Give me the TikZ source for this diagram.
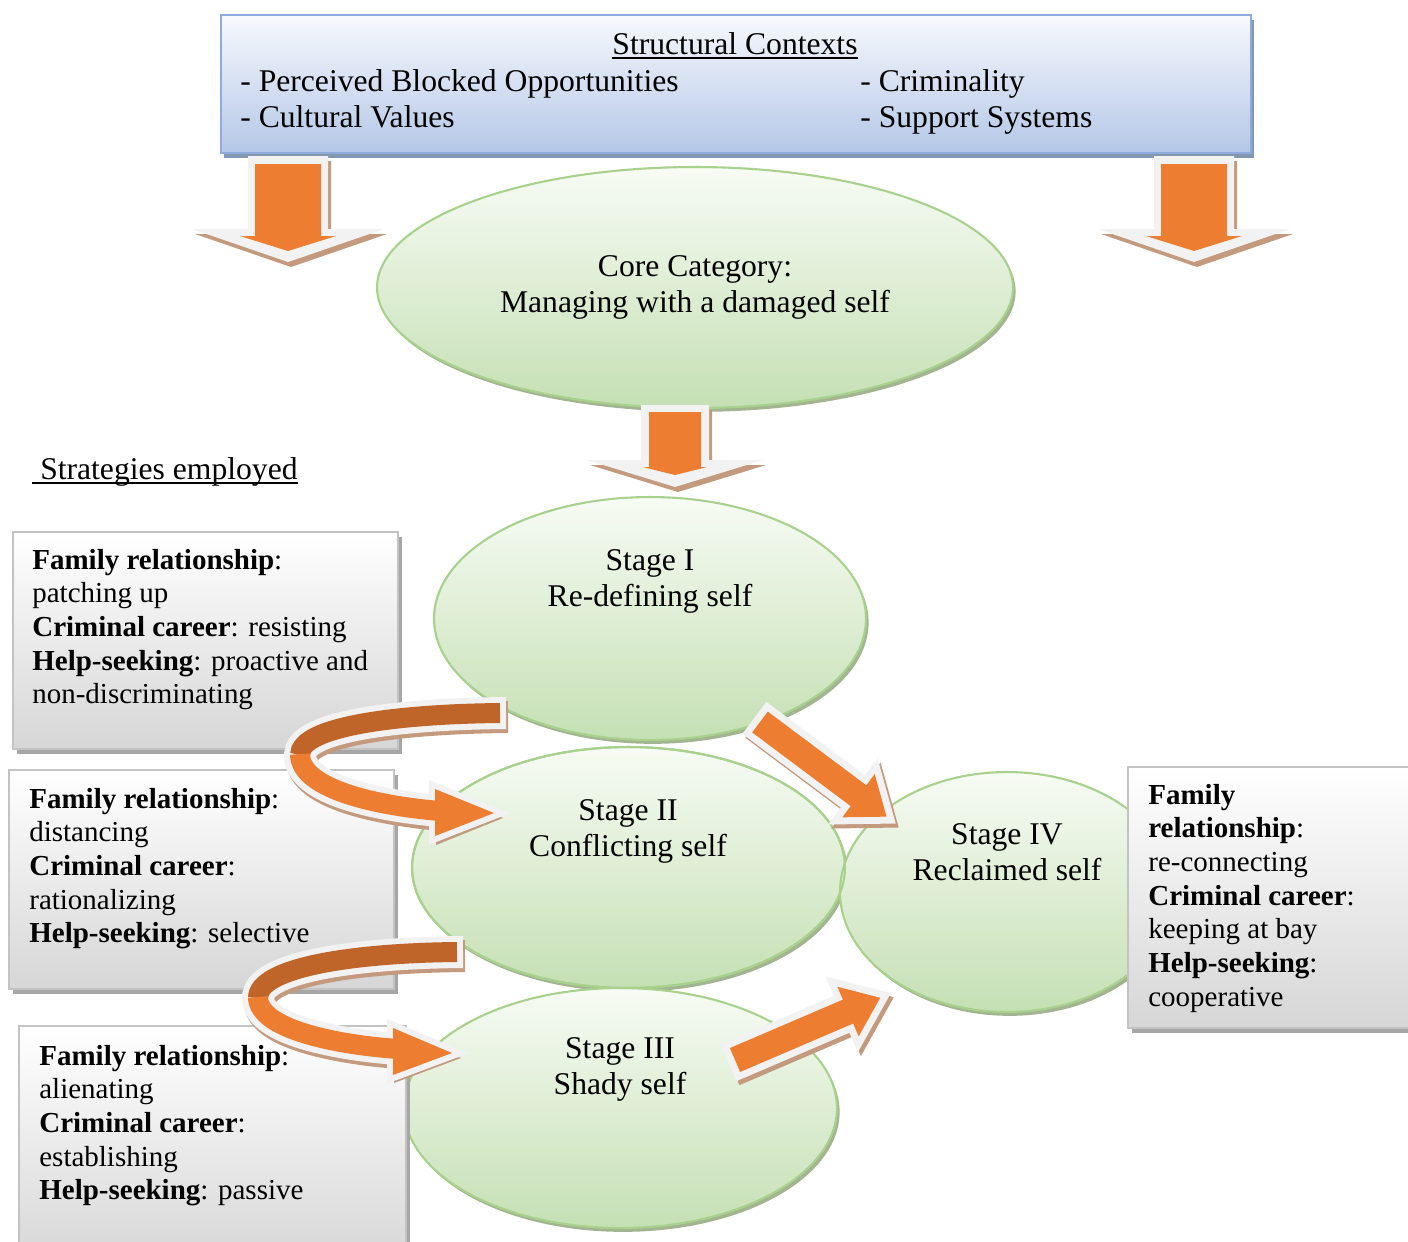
\documentclass[tikz,border=0pt]{standalone}
\usepackage{fontspec}
\setmainfont{Liberation Serif}
\usetikzlibrary{shapes.geometric,shadows}

\definecolor{arrorange}{HTML}{ED7D31}
\definecolor{arrdark}{HTML}{C0652A}
\definecolor{arrrim}{HTML}{F2F2F2}
\definecolor{arrshadow}{HTML}{C49A7E}
\definecolor{ellA}{HTML}{F7FBF4}
\definecolor{ellB}{HTML}{C5E0B4}
\definecolor{elldraw}{HTML}{A9D18E}
\definecolor{ellshadow}{HTML}{A2B590}
\definecolor{boxbottom}{HTML}{D6D6D6}
\definecolor{boxdraw}{HTML}{C3C3C3}
\definecolor{boxshadow}{HTML}{A6A6A6}
\definecolor{topA}{HTML}{F7F9FD}
\definecolor{topB}{HTML}{B4C7E7}
\definecolor{topdraw}{HTML}{8FAADC}
\definecolor{topshadow}{HTML}{8497B0}

\newcommand{\myul}[1]{\leavevmode\setbox0\hbox{#1}\rlap{\rule[-2.6pt]{\wd0}{0.9pt}}\box0}

% diagonal block arrow: tail x, tail y, rotation, length
\newcommand{\blockarr}[4]{%
  \begin{scope}[shift={(#1+3,#2+4)}, rotate=#3]
    \filldraw[fill=arrshadow, draw=arrshadow, line width=0.28cm]
      (0,-13) -- (#4-35,-13) -- (#4-35,-27) -- (#4,0) -- (#4-35,27) -- (#4-35,13) -- (0,13) -- cycle;
  \end{scope}
  \begin{scope}[shift={(#1,#2)}, rotate=#3]
    \filldraw[fill=arrrim, draw=arrrim, line width=0.28cm]
      (0,-13) -- (#4-35,-13) -- (#4-35,-27) -- (#4,0) -- (#4-35,27) -- (#4-35,13) -- (0,13) -- cycle;
    \fill[arrorange]
      (0,-13) -- (#4-35,-13) -- (#4-35,-27) -- (#4,0) -- (#4-35,27) -- (#4-35,13) -- (0,13) -- cycle;
  \end{scope}}

% big down arrow: centre x, top y
\newcommand{\bigdown}[2]{%
  \begin{scope}[shift={(#1,#2)}]
    \fill[arrshadow, shift={(3,5)}] (-40,0) -- (40,0) -- (40,73) -- (96,73) -- (0,106) -- (-96,73) -- (-40,73) -- cycle;
    \fill[arrrim] (-40,0) -- (40,0) -- (40,73) -- (96,73) -- (0,106) -- (-96,73) -- (-40,73) -- cycle;
    \fill[arrorange] (-33,8) -- (33,8) -- (33,80) -- (48,80) -- (0,95) -- (-48,80) -- (-33,80) -- cycle;
  \end{scope}}

\tikzset{
  bigtxt/.style={font=\fontsize{18}{20.6}\selectfont, inner sep=0},
  toptxt/.style={font=\fontsize{18}{21}\selectfont, inner sep=0},
  smalltxt/.style={font=\fontsize{16.5}{19.2}\selectfont, inner sep=0, anchor=base west},
  ell/.style={ellipse, draw=elldraw, line width=1.2pt, top color=ellA, bottom color=ellB,
    inner sep=0, outer sep=0,
    drop shadow={shadow xshift=1.5pt, shadow yshift=-2.2pt, fill=ellshadow, opacity=1}},
  gbox/.style={rectangle, anchor=north west, draw=boxdraw, line width=1.2pt,
    top color=white, bottom color=boxbottom, inner sep=0,
    drop shadow={shadow xshift=2.3pt, shadow yshift=-2.8pt, fill=boxshadow, opacity=1}},
  topbox/.style={rectangle, anchor=north west, draw=topdraw, line width=1.2pt,
    top color=topA, bottom color=topB, inner sep=0,
    drop shadow={shadow xshift=1.5pt, shadow yshift=-2.8pt, fill=topshadow, opacity=1}},
}

\begin{document}
\begin{tikzpicture}[x=0.02cm, y=-0.02cm]
\useasboundingbox (0,0) rectangle (1408,1241);
\fill[white] (0,0) rectangle (1408,1241);
\clip (0,0) rectangle (1408,1241);

% ---------- top box ----------
\node[topbox, minimum width=20.6cm, minimum height=2.76cm] (top) at (220,14) {};
\node[toptxt, anchor=base] (toptitle) at (735,54) {\myul{Structural Contexts}};
\node[toptxt, anchor=base west] (topleft) at (240,91)
  {\begin{tabular}[t]{@{}l@{}}- Perceived Blocked Opportunities\\- Cultural Values\end{tabular}};
\node[toptxt, anchor=base west] (topright) at (860,91)
  {\begin{tabular}[t]{@{}l@{}}- Criminality\\- Support Systems\end{tabular}};

% ---------- down arrows from top box ----------
\bigdown{288}{156}
\bigdown{1194}{156}

% ---------- core ellipse ----------
\node[ell, minimum width=12.72cm, minimum height=4.82cm] (core) at (695,287.5) {};
\node[bigtxt, anchor=base] (coretxt) at (695,276)
  {\begin{tabular}[t]{@{}c@{}}Core Category:\\Managing with a damaged self\end{tabular}};

% ---------- middle down arrow ----------
\begin{scope}[shift={(675,405)}]
  \fill[arrshadow, shift={(3,5)}] (-34,0) -- (34,0) -- (34,55) -- (88,55) -- (0,82) -- (-88,55) -- (-34,55) -- cycle;
  \fill[arrrim] (-34,0) -- (34,0) -- (34,55) -- (88,55) -- (0,82) -- (-88,55) -- (-34,55) -- cycle;
  \fill[arrorange] (-26,7) -- (26,7) -- (26,62) -- (32,62) -- (0,70) -- (-32,62) -- (-26,62) -- cycle;
\end{scope}

% ---------- strategies label ----------
\node[bigtxt, anchor=base west] (strat) at (32,479) {\myul{\ Strategies employed}};

% ---------- stage ellipses ----------
\node[ell, minimum width=8.64cm, minimum height=4.86cm] (s1) at (650,618.5) {};
\node[ell, minimum width=8.66cm, minimum height=4.82cm] (s2) at (628.5,867.5) {};
\node[ell, minimum width=8.66cm, minimum height=4.8cm] (s3) at (620.5,1108) {};
\node[ell, minimum width=6.68cm, minimum height=4.8cm] (s4) at (1007,892) {};
\draw[elldraw, line width=1.2pt] (s2.center) ellipse [x radius=4.33cm, y radius=2.41cm];

\node[bigtxt, anchor=base] (s1txt) at (650,570)
  {\begin{tabular}[t]{@{}c@{}}Stage I\\Re-defining self\end{tabular}};
\node[bigtxt, anchor=base] (s2txt) at (628,820)
  {\begin{tabular}[t]{@{}c@{}}Stage II\\Conflicting self\end{tabular}};
\node[bigtxt, anchor=base] (s3txt) at (620,1058)
  {\begin{tabular}[t]{@{}c@{}}Stage III\\Shady self\end{tabular}};
\node[bigtxt, anchor=base] (s4txt) at (1007,844)
  {\begin{tabular}[t]{@{}c@{}}Stage IV\\Reclaimed self\end{tabular}};

% ---------- strategy boxes ----------
\node[gbox, minimum width=7.7cm, minimum height=4.34cm] (b1) at (12,531) {};
\node[gbox, minimum width=7.7cm, minimum height=4.38cm] (b2) at (8,769) {};
\node[gbox, minimum width=7.74cm, minimum height=4.8cm] (b3) at (18,1025) {};
\node[gbox, minimum width=6.2cm, minimum height=5.22cm] (b4) at (1127,766) {};

\node[smalltxt] (b1txt) at (32,569)
  {\begin{tabular}[t]{@{}l@{}}\textbf{Family relationship}:\\patching up\\\textbf{Criminal career}: resisting\\\textbf{Help-seeking}: proactive and\\non-discriminating\end{tabular}};
\node[smalltxt] (b2txt) at (29,808)
  {\begin{tabular}[t]{@{}l@{}}\textbf{Family relationship}:\\distancing\\\textbf{Criminal career}:\\rationalizing\\\textbf{Help-seeking}: selective\end{tabular}};
\node[smalltxt] (b3txt) at (39,1065)
  {\begin{tabular}[t]{@{}l@{}}\textbf{Family relationship}:\\alienating\\\textbf{Criminal career}:\\establishing\\\textbf{Help-seeking}: passive\end{tabular}};
\node[smalltxt] (b4txt) at (1148,804)
  {\begin{tabular}[t]{@{}l@{}}\textbf{Family}\\\textbf{relationship}:\\re-connecting\\\textbf{Criminal career}:\\keeping at bay\\\textbf{Help-seeking}:\\cooperative\end{tabular}};

% ---------- diagonal arrows ----------
\blockarr{760}{722}{-36.8}{158}
\blockarr{735}{1060}{23.2}{158}

% ---------- curved arrow 1 (Stage I -> Stage II) ----------
\draw[arrshadow, line width=0.64cm, shift={(2,4)}]
  (506,713) .. controls (400,714) and (300,726) .. (300,755)
  .. controls (300,790) and (380,806) .. (440,811);
\fill[arrshadow, shift={(3,5)}] (433,785) -- (500,813) -- (433,840) -- cycle;
\draw[arrrim, line width=0.64cm]
  (506,713) .. controls (400,714) and (300,726) .. (300,755)
  .. controls (300,790) and (380,806) .. (440,811);
\filldraw[arrrim, line width=0.24cm, line join=miter] (435,789) -- (494,813) -- (435,836) -- cycle;
\draw[arrdark, line width=0.4cm] (500,713) .. controls (400,714) and (300,726) .. (300,755);
\draw[arrorange, line width=0.4cm] (300,754) .. controls (300,790) and (380,806) .. (440,811);
\fill[arrorange] (435,789) -- (494,813) -- (435,836) -- cycle;

% ---------- curved arrow 2 (Stage II -> Stage III) ----------
\draw[arrshadow, line width=0.64cm, shift={(2,4)}]
  (463,952) .. controls (350,953) and (258,968) .. (258,998)
  .. controls (258,1030) and (340,1045) .. (398,1049);
\fill[arrshadow, shift={(3,5)}] (391,1025) -- (458,1053) -- (391,1078) -- cycle;
\draw[arrrim, line width=0.64cm]
  (463,952) .. controls (350,953) and (258,968) .. (258,998)
  .. controls (258,1030) and (340,1045) .. (398,1049);
\filldraw[arrrim, line width=0.24cm, line join=miter] (393,1028) -- (452,1053) -- (393,1075) -- cycle;
\draw[arrdark, line width=0.4cm] (457,952) .. controls (350,953) and (258,968) .. (258,998);
\draw[arrorange, line width=0.4cm] (258,997) .. controls (258,1030) and (340,1045) .. (398,1049);
\fill[arrorange] (393,1028) -- (452,1053) -- (393,1075) -- cycle;
\end{tikzpicture}
\end{document}
